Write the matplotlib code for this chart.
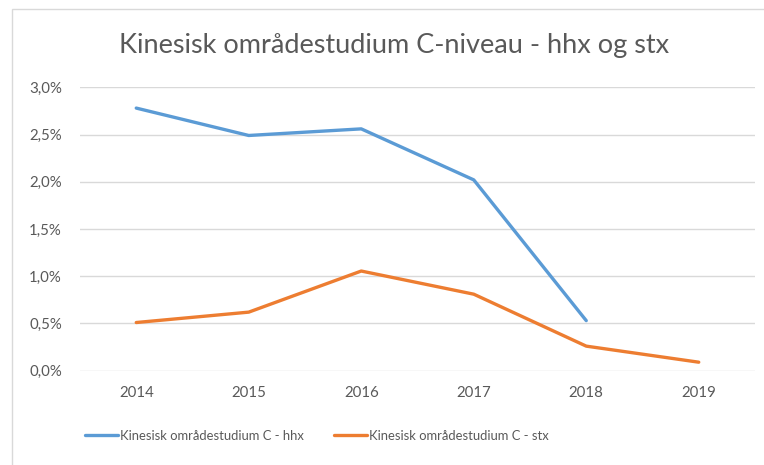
import matplotlib
matplotlib.use("Agg")
import matplotlib.pyplot as plt
from matplotlib.ticker import FuncFormatter
from matplotlib.patches import Rectangle

years = ["2014", "2015", "2016", "2017", "2018", "2019"]
hhx = [2.78, 2.49, 2.56, 2.02, 0.53, None]
stx = [0.51, 0.62, 1.055, 0.81, 0.26, 0.09]
y_ticks = [0.0, 0.5, 1.0, 1.5, 2.0, 2.5, 3.0]
title = "Kinesisk områdestudium C-niveau - hhx og stx"
labels = ["Kinesisk områdestudium C - hhx", "Kinesisk områdestudium C - stx"]

plt.rcParams['font.family'] = ['Lato', 'DejaVu Sans']
W, H = 764, 465
fig = plt.figure(figsize=(W / 100, H / 100), dpi=100)
ax = fig.add_axes([80 / W, (H - 370.7) / H, (755 - 80) / W, (370.7 - 87.3) / H])

x = list(range(len(years)))
hx = [i for i, v in enumerate(hhx) if v is not None]
hv = [v for v in hhx if v is not None]
l1, = ax.plot(hx, hv, color="#5B9BD5", lw=2.4, solid_capstyle="round", solid_joinstyle="round")
l2, = ax.plot(x, stx, color="#ED7D31", lw=2.4, solid_capstyle="round", solid_joinstyle="round")

ax.set_xlim(-0.5, len(years) - 0.5)
ax.set_ylim(0, 3.0)
ax.set_yticks(y_ticks)
ax.yaxis.set_major_formatter(FuncFormatter(lambda v, p: f"{v:.1f}%".replace(".", ",")))
ax.set_xticks(x)
ax.set_xticklabels(years)
ax.grid(axis="y", color="#D9D9D9", lw=1)
ax.set_axisbelow(True)
for s in ax.spines.values():
    s.set_visible(False)
ax.tick_params(axis="both", length=0, colors="#595959", labelsize=10.8)
ax.tick_params(axis="y", pad=13)
ax.tick_params(axis="x", pad=11)

fig.text(394 / W, 1 - 45 / H, title, ha="center", va="center", fontsize=19.5, color="#595959")

fig.legend([l1, l2], labels, loc="center", bbox_to_anchor=(317 / W, 1 - 436 / H), ncol=2,
           frameon=False, fontsize=9.4, labelcolor="#595959", handlelength=2.5,
           handletextpad=0.2, columnspacing=2.3)

fig.patches.append(Rectangle((12 / W, -0.1), 1.1, (H - 9) / H + 0.1, transform=fig.transFigure,
                             fill=False, edgecolor="#D9D9D9", lw=1))

fig.savefig("out.png", dpi=100)
